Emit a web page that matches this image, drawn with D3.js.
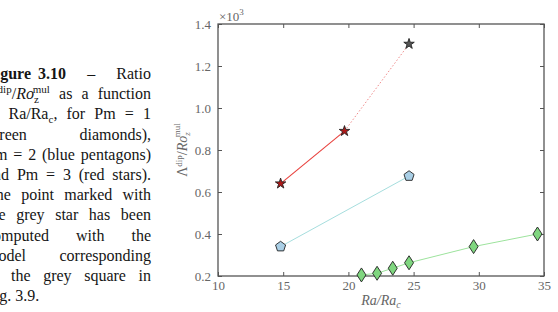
<!DOCTYPE html>
<html>
<head>
<meta charset="utf-8">
<script src="https://cdn.jsdelivr.net/npm/d3@7"></script>
<style>
  body { margin: 0; background: #fff; }
  #wrap { position: relative; width: 558px; height: 312px; overflow: hidden; }
  #caption { position: absolute; left: -14px; top: 64px; width: 165px;
             font-family: "Liberation Serif", serif; font-size: 16px; color: #151515; }
  #caption div { height: 20.2px; line-height: 20.2px; white-space: nowrap;
                 text-align: justify; text-align-last: justify; }
  #caption div.last { text-align-last: left; }
  #caption sup, #caption sub { font-size: 11px; line-height: 0; }
  svg { position: absolute; left: 0; top: 0; }
</style>
</head>
<body>
<div id="wrap">
  <div id="caption"></div>
  <svg id="chart" width="558" height="312"></svg>
</div>
<script>
var captionLines = [
  "<b>Figure 3.10</b> &nbsp; – &nbsp; Ratio",
  "Λ<sup>dip</sup>/<i>Ro</i><sub>z</sub><sup style='margin-left:-6px'>mul</sup> as a function",
  "of Ra/Ra<sub>c</sub>, for Pm = 1",
  "(green diamonds),",
  "Pm = 2 (blue pentagons)",
  "and Pm = 3 (red stars).",
  "The point marked with",
  "the grey star has been",
  "computed with the",
  "model corresponding",
  "to the grey square in",
  "Fig. 3.9."
];

// Pm = 1 (green diamonds)
var pm1Ra = [21.0, 22.2, 23.4, 24.65, 29.6, 34.5];
var pm1Val = [0.205, 0.213, 0.237, 0.263, 0.34, 0.40];
// Pm = 2 (blue pentagons)
var pm2Ra = [14.8, 24.65];
var pm2Val = [0.34, 0.676];
// Pm = 3 (red stars)
var pm3Ra = [14.8, 19.7];
var pm3Val = [0.64, 0.89];
// grey star
var greyRa = [24.65];
var greyVal = [1.305];

var xTicks = [10, 15, 20, 25, 30, 35];
var yTicks = [0.2, 0.4, 0.6, 0.8, 1.0, 1.2, 1.4];

d3.select("#caption").selectAll("div")
  .data(captionLines)
  .enter()
  .append("div")
  .attr("class", function(d, i) { return i == captionLines.length - 1 ? "last" : null; })
  .html(function(d) { return d; });

var svg = d3.select("#chart");
var plotL = 218, plotR = 544, plotT = 24, plotB = 276;

var x = d3.scaleLinear().domain([10, 35]).range([plotL, plotR]);
var y = d3.scaleLinear().domain([0.2, 1.4]).range([plotB, plotT]);

var tickFont = "'Liberation Serif', serif";
var grey = "#555";

// ticks (inward on all four sides)
svg.append("g").attr("transform", "translate(0," + plotB + ")")
  .call(d3.axisBottom(x).tickValues(xTicks).tickSizeInner(-4).tickSizeOuter(0).tickPadding(5).tickFormat(d3.format("d")))
  .call(function(g) { g.select(".domain").remove(); });
svg.append("g").attr("transform", "translate(0," + plotT + ")")
  .call(d3.axisTop(x).tickValues(xTicks).tickSizeInner(-4).tickSizeOuter(0).tickFormat(""))
  .call(function(g) { g.select(".domain").remove(); });
svg.append("g").attr("transform", "translate(" + plotL + ",0)")
  .call(d3.axisLeft(y).tickValues(yTicks).tickSizeInner(-4).tickSizeOuter(0).tickPadding(7).tickFormat(d3.format(".1f")))
  .call(function(g) { g.select(".domain").remove(); });
svg.append("g").attr("transform", "translate(" + plotR + ",0)")
  .call(d3.axisRight(y).tickValues(yTicks).tickSizeInner(-4).tickSizeOuter(0).tickFormat(""))
  .call(function(g) { g.select(".domain").remove(); });

svg.selectAll(".tick line").attr("stroke", grey).attr("stroke-width", 1);
svg.selectAll(".tick text")
  .attr("fill", "#666")
  .style("font-family", tickFont)
  .style("font-size", "13px");

// frame
svg.append("rect")
  .attr("x", plotL).attr("y", plotT)
  .attr("width", plotR - plotL).attr("height", plotB - plotT)
  .attr("fill", "none").attr("stroke", grey).attr("stroke-width", 1.3);

// ×10^3
var mult = svg.append("text").attr("x", plotL + 1).attr("y", plotT - 3)
  .attr("fill", "#666").style("font-family", tickFont).style("font-size", "13px");
mult.append("tspan").text("×10");
mult.append("tspan").attr("dy", -6).style("font-size", "9px").text("3");

// axis labels
var xl = svg.append("text").attr("x", (plotL + plotR) / 2).attr("y", 305)
  .attr("text-anchor", "middle").attr("fill", "#666")
  .style("font-family", tickFont).style("font-size", "14px").style("font-style", "italic");
xl.append("tspan").text("Ra/Ra");
xl.append("tspan").attr("dy", 3).style("font-size", "10px").text("c");

var yl = svg.append("text")
  .attr("transform", "translate(187," + ((plotT + plotB) / 2) + ") rotate(-90)")
  .attr("text-anchor", "middle").attr("fill", "#666")
  .style("font-family", tickFont).style("font-size", "14px");
yl.append("tspan").text("Λ");
yl.append("tspan").attr("dy", -5).style("font-size", "9px").text("dip");
yl.append("tspan").attr("dy", 5).text("/");
yl.append("tspan").style("font-style", "italic").text("Ro");
yl.append("tspan").attr("dy", 3).style("font-size", "9px").style("font-style", "italic").text("z");
yl.append("tspan").attr("dx", -5).attr("dy", -10).style("font-size", "9px").text("mul");

function pts(xs, ys) {
  return xs.map(function(d, i) { return [d, ys[i]]; });
}
var line = d3.line().x(function(d) { return x(d[0]); }).y(function(d) { return y(d[1]); });

var pm1 = pts(pm1Ra, pm1Val), pm2 = pts(pm2Ra, pm2Val), pm3 = pts(pm3Ra, pm3Val), greyPts = pts(greyRa, greyVal);

svg.append("path").datum(pm1).attr("d", line).attr("fill", "none").attr("stroke", "#9de39d").attr("stroke-width", 1);
svg.append("path").datum(pm2).attr("d", line).attr("fill", "none").attr("stroke", "#a6dede").attr("stroke-width", 1);
svg.append("path").datum(pm3).attr("d", line).attr("fill", "none").attr("stroke", "#e8403c").attr("stroke-width", 1.1);
svg.append("path").datum([pm3[1], greyPts[0]]).attr("d", line).attr("fill", "none")
  .attr("stroke", "#f08a8a").attr("stroke-width", 1).attr("stroke-dasharray", "1.5,2");

var diamond = "M0,-7L4.5,0L0,7L-4.5,0Z";
var pentagon = d3.range(5).map(function(i) {
  var a = -Math.PI / 2 + i * 2 * Math.PI / 5;
  return (i ? "L" : "M") + (5.3 * Math.cos(a)).toFixed(2) + "," + (5.3 * Math.sin(a)).toFixed(2);
}).join("") + "Z";
var star = d3.symbol().type(d3.symbolStar).size(34)();

function markers(data, path, fill) {
  svg.append("g").selectAll("path").data(data).enter().append("path")
    .attr("transform", function(d) { return "translate(" + x(d[0]) + "," + y(d[1]) + ")"; })
    .attr("d", path).attr("fill", fill).attr("stroke", "#222").attr("stroke-width", 0.9);
}
markers(pm1, diamond, "#7fd67f");
markers(pm2, pentagon, "#a9cfe6");
markers(pm3, star, "#b01818");
markers(greyPts, star, "#555");
</script>
</body>
</html>
